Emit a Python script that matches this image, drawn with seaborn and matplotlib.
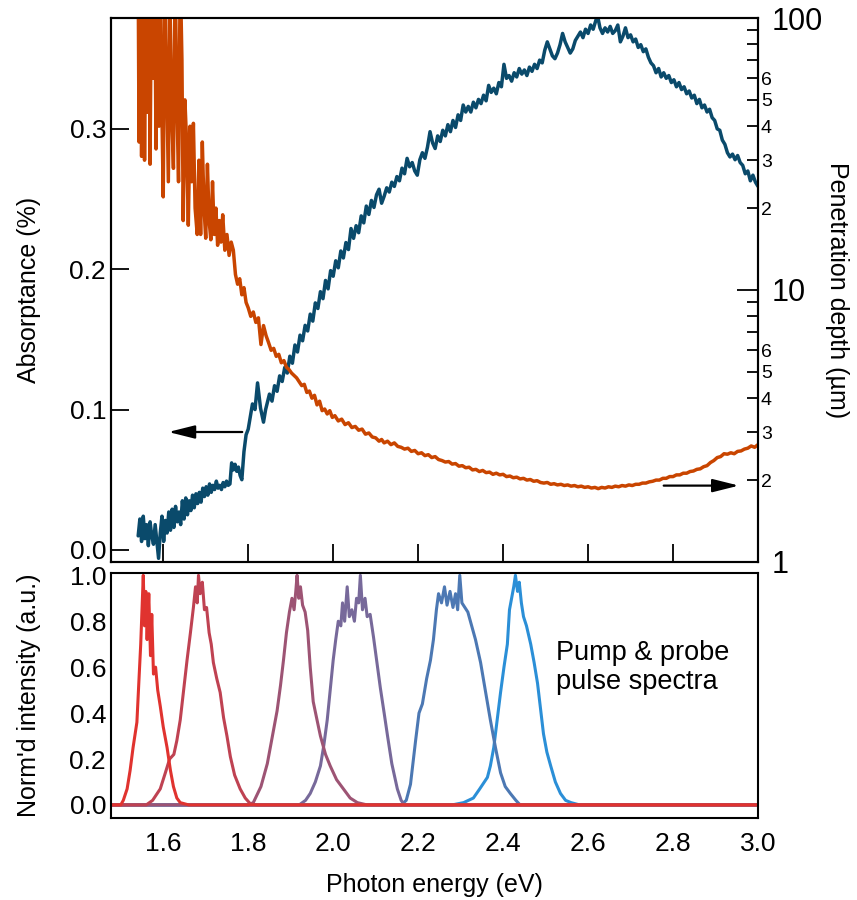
import numpy as np
import pandas as pd
import matplotlib
matplotlib.use("Agg")
import matplotlib.pyplot as plt
import seaborn as sns
from matplotlib.ticker import FixedLocator, FuncFormatter

# ---------------- data ----------------
# Absorptance (left axis, %), blue curve
abs_energy = [1.541, 1.545, 1.549, 1.553, 1.557, 1.561, 1.565, 1.569, 1.573, 1.577,
              1.581, 1.585, 1.589, 1.593, 1.597, 1.601, 1.605, 1.609, 1.613, 1.617,
              1.621, 1.625, 1.629, 1.633, 1.637, 1.641, 1.645, 1.649, 1.653, 1.657,
              1.661, 1.665, 1.669, 1.673, 1.677, 1.681, 1.685, 1.689, 1.693, 1.697,
              1.701, 1.705, 1.709, 1.713, 1.717, 1.721, 1.725, 1.729, 1.733, 1.737,
              1.741, 1.745, 1.749, 1.753, 1.757, 1.761, 1.765, 1.769, 1.773, 1.777,
              1.781, 1.785, 1.790, 1.795, 1.800, 1.805, 1.810, 1.816, 1.822, 1.829,
              1.836, 1.841, 1.845,
              1.850, 1.856, 1.862, 1.868, 1.874, 1.880, 1.886, 1.892, 1.898, 1.904,
              1.910, 1.916, 1.922, 1.928, 1.934, 1.940, 1.946, 1.952, 1.958, 1.964,
              1.970, 1.976, 1.982, 1.988, 1.994, 2.000, 2.006, 2.012, 2.018, 2.024,
              2.030, 2.036, 2.042, 2.048, 2.054, 2.060, 2.066, 2.072, 2.078, 2.084,
              2.090, 2.096, 2.102, 2.108, 2.114, 2.120, 2.126, 2.132, 2.138, 2.144,
              2.150, 2.156, 2.162, 2.168, 2.174, 2.180, 2.186, 2.192, 2.198, 2.204,
              2.210, 2.216, 2.222, 2.228, 2.234, 2.240, 2.246, 2.252, 2.258, 2.264,
              2.270, 2.276, 2.282, 2.288, 2.294, 2.300, 2.306, 2.312, 2.318, 2.324,
              2.330, 2.336, 2.342, 2.348, 2.354, 2.360, 2.366, 2.372, 2.378, 2.384,
              2.390, 2.396, 2.402, 2.408, 2.414, 2.420, 2.426, 2.432, 2.438, 2.444,
              2.450, 2.456, 2.462, 2.468, 2.474, 2.480, 2.486, 2.492, 2.498, 2.504,
              2.510, 2.516, 2.522, 2.528, 2.534, 2.540, 2.546, 2.552, 2.558, 2.564,
              2.570, 2.576, 2.582, 2.588, 2.594, 2.600, 2.606, 2.612, 2.618, 2.622,
              2.628, 2.634, 2.640, 2.646, 2.652, 2.658, 2.664, 2.670, 2.676, 2.682,
              2.688, 2.694, 2.700, 2.706, 2.712, 2.718, 2.724, 2.730, 2.736, 2.742,
              2.748, 2.754, 2.760, 2.766, 2.772, 2.778, 2.784, 2.790, 2.796, 2.802,
              2.808, 2.814, 2.820, 2.826, 2.832, 2.838, 2.844, 2.850, 2.856, 2.862,
              2.868, 2.874, 2.880, 2.886, 2.892, 2.898, 2.904, 2.910, 2.916, 2.922,
              2.928, 2.934, 2.940, 2.946, 2.952, 2.958, 2.964, 2.970, 2.976, 2.982,
              2.988, 2.994, 3.000]
absorptance = [0.010, 0.022, 0.006, 0.024, 0.008, 0.018, 0.003, 0.020, 0.010, 0.004,
               0.018, 0.006, -0.006, 0.012, 0.024, 0.006, 0.021, 0.012, 0.027, 0.014,
               0.029, 0.016, 0.031, 0.020, 0.027, 0.018, 0.035, 0.022, 0.037, 0.025,
               0.035, 0.028, 0.039, 0.030, 0.040, 0.033, 0.041, 0.034, 0.044, 0.038,
               0.045, 0.039, 0.047, 0.041, 0.046, 0.043, 0.049, 0.044, 0.046, 0.043,
               0.048, 0.045, 0.049, 0.046, 0.047, 0.062, 0.057, 0.061, 0.056, 0.059,
               0.053, 0.050, 0.070, 0.082, 0.086, 0.095, 0.104, 0.100, 0.119, 0.101,
               0.091, 0.100, 0.105,
               0.111, 0.106, 0.117, 0.113, 0.124, 0.120, 0.130, 0.126, 0.138, 0.133,
               0.146, 0.141, 0.153, 0.149, 0.160, 0.156, 0.168, 0.163, 0.176, 0.172,
               0.184, 0.179, 0.192, 0.186, 0.199, 0.195, 0.206, 0.201, 0.213, 0.208,
               0.219, 0.214, 0.229, 0.222, 0.231, 0.226, 0.238, 0.233, 0.245, 0.239,
               0.249, 0.244, 0.253, 0.257, 0.247, 0.252, 0.258, 0.255, 0.262, 0.259,
               0.266, 0.263, 0.272, 0.268, 0.279, 0.273, 0.276, 0.270, 0.267, 0.278,
               0.283, 0.279, 0.287, 0.298, 0.290, 0.286, 0.295, 0.291, 0.299, 0.295,
               0.303, 0.298, 0.306, 0.301, 0.310, 0.306, 0.317, 0.312, 0.316, 0.312,
               0.319, 0.315, 0.321, 0.318, 0.324, 0.320, 0.331, 0.326, 0.329, 0.325,
               0.333, 0.330, 0.346, 0.336, 0.338, 0.334, 0.340, 0.337, 0.343, 0.339,
               0.342, 0.338, 0.344, 0.341, 0.346, 0.343, 0.349, 0.347, 0.356, 0.362,
               0.357, 0.352, 0.350, 0.354, 0.360, 0.368, 0.362, 0.358, 0.354, 0.357,
               0.363, 0.366, 0.369, 0.365, 0.371, 0.368, 0.374, 0.371, 0.377, 0.381,
               0.372, 0.368, 0.372, 0.369, 0.373, 0.368, 0.370, 0.374, 0.362, 0.366,
               0.372, 0.365, 0.367, 0.362, 0.364, 0.358, 0.360, 0.355, 0.357, 0.351,
               0.347, 0.345, 0.340, 0.343, 0.337, 0.340, 0.336, 0.338, 0.333, 0.335,
               0.330, 0.333, 0.328, 0.330, 0.325, 0.327, 0.322, 0.324, 0.318, 0.321,
               0.315, 0.317, 0.312, 0.314, 0.308, 0.306, 0.300, 0.299, 0.292, 0.289,
               0.283, 0.280, 0.282, 0.278, 0.281, 0.276, 0.274, 0.268, 0.270, 0.263,
               0.267, 0.262, 0.259]

# Penetration depth (right axis, um), orange curve
pen_energy = [1.541, 1.543, 1.546, 1.549, 1.553, 1.556, 1.560, 1.563, 1.566, 1.569,
              1.573, 1.576, 1.580, 1.583, 1.586, 1.590, 1.593, 1.596, 1.600, 1.604,
              1.608, 1.612, 1.616, 1.620, 1.624, 1.628, 1.632, 1.636, 1.640, 1.644,
              1.647, 1.651, 1.655, 1.659, 1.663, 1.667, 1.671, 1.675, 1.680, 1.684,
              1.688, 1.692, 1.696, 1.700, 1.704, 1.708, 1.712, 1.716, 1.720, 1.724,
              1.728, 1.732, 1.736, 1.740, 1.745, 1.750, 1.755, 1.760, 1.765, 1.770,
              1.775, 1.780, 1.785, 1.790, 1.795,
              1.800, 1.806, 1.812, 1.818, 1.824, 1.830, 1.836, 1.842, 1.848, 1.854,
              1.860, 1.866, 1.872, 1.878, 1.884, 1.890, 1.896, 1.902, 1.908, 1.914,
              1.920, 1.926, 1.932, 1.938, 1.944, 1.950, 1.956, 1.962, 1.968, 1.974,
              1.980, 1.986, 1.992, 1.998, 2.004, 2.012, 2.020, 2.028, 2.036, 2.044,
              2.052, 2.060, 2.068, 2.076, 2.084, 2.092, 2.100, 2.108, 2.114, 2.120,
              2.128, 2.136, 2.144, 2.152, 2.160, 2.168, 2.176, 2.184, 2.192, 2.200,
              2.208, 2.216, 2.224, 2.232, 2.240, 2.248, 2.256, 2.264, 2.272, 2.280,
              2.288, 2.296, 2.304, 2.312, 2.320, 2.328, 2.336, 2.344, 2.352, 2.360,
              2.368, 2.376, 2.384, 2.392, 2.400, 2.408, 2.416, 2.424, 2.432, 2.440,
              2.448, 2.456, 2.464, 2.472, 2.480, 2.488, 2.496, 2.504, 2.512, 2.520,
              2.528, 2.536, 2.544, 2.552, 2.560, 2.568, 2.576, 2.584, 2.592, 2.600,
              2.608, 2.616, 2.624, 2.632, 2.640, 2.648, 2.656, 2.664, 2.672, 2.680,
              2.688, 2.696, 2.704, 2.712, 2.720, 2.728, 2.736, 2.744, 2.752, 2.760,
              2.768, 2.776, 2.784, 2.792, 2.800, 2.808, 2.816, 2.824, 2.832, 2.840,
              2.848, 2.856, 2.864, 2.872, 2.880, 2.888, 2.896, 2.904, 2.912, 2.920,
              2.928, 2.936, 2.944, 2.952, 2.960, 2.968, 2.976, 2.984, 2.992, 3.000]
pen_depth = [150, 35, 160, 31, 150, 30, 140, 45, 160, 29,
             200, 60, 150, 33, 120, 40, 150, 55, 22, 150,
             60, 25, 110, 45, 28, 150, 50, 25, 150, 70,
             18, 50, 35, 17.3, 40, 25, 41, 20, 16, 30,
             16, 35, 20, 15.5, 29, 18, 15.3, 25, 16, 20,
             14.6, 18, 15, 18.9, 14, 16, 13.4, 15, 14, 11.4,
             10.5, 11, 9.6, 10.2, 9.0,
             8.6, 8.0, 8.3, 7.6, 7.9, 6.3, 7.4, 6.8, 6.4, 6.0,
             6.1, 5.7, 5.8, 5.4, 5.5, 5.2, 5.1, 4.95, 4.85, 4.75,
             4.6, 4.45, 4.5, 4.2, 4.25, 4.0, 4.1, 3.78, 3.9, 3.6,
             3.65, 3.5, 3.6, 3.4, 3.45, 3.3, 3.35, 3.2, 3.25, 3.12,
             3.15, 3.05, 3.08, 2.95, 2.98, 2.88, 2.86, 2.78, 2.82, 2.74,
             2.78, 2.70, 2.74, 2.66, 2.64, 2.60, 2.62, 2.55, 2.57, 2.50,
             2.52, 2.46, 2.48, 2.42, 2.44, 2.38, 2.36, 2.33, 2.34, 2.29,
             2.30, 2.25, 2.26, 2.22, 2.23, 2.18, 2.19, 2.15, 2.17, 2.13,
             2.14, 2.10, 2.12, 2.09, 2.10, 2.06, 2.07, 2.04, 2.05, 2.02,
             2.03, 2.00, 2.01, 1.98, 1.99, 1.96, 1.95, 1.96, 1.93, 1.94,
             1.92, 1.93, 1.91, 1.92, 1.90, 1.91, 1.89, 1.90, 1.88, 1.89,
             1.87, 1.88, 1.86, 1.88, 1.87, 1.89, 1.88, 1.90, 1.89, 1.91,
             1.90, 1.92, 1.91, 1.93, 1.93, 1.95, 1.95, 1.97, 1.98, 2.00,
             2.00, 2.03, 2.03, 2.06, 2.06, 2.09, 2.09, 2.12, 2.12, 2.15,
             2.16, 2.19, 2.20, 2.24, 2.26, 2.32, 2.36, 2.42, 2.44, 2.50,
             2.49, 2.52, 2.50, 2.55, 2.56, 2.60, 2.62, 2.67, 2.64, 2.70]

# Pump & probe pulse spectra (bottom panel), normalised intensity
spec1_energy = [1.48, 1.50, 1.506, 1.515, 1.522, 1.529, 1.538, 1.543, 1.547, 1.550,
                1.553, 1.556, 1.559, 1.562, 1.566, 1.570, 1.573, 1.577, 1.582, 1.587,
                1.593, 1.600, 1.609, 1.617, 1.624, 1.632, 1.640, 1.66, 3.0]
spec1_int = [0, 0, 0.02, 0.07, 0.15, 0.25, 0.36, 0.55, 0.70, 0.85,
             1.0, 0.78, 0.93, 0.72, 0.92, 0.65, 0.83, 0.57, 0.60, 0.50,
             0.43, 0.34, 0.25, 0.15, 0.08, 0.03, 0.01, 0, 0]

spec2_energy = [1.48, 1.56, 1.575, 1.593, 1.605, 1.615, 1.625, 1.632, 1.640, 1.648,
                1.656, 1.664, 1.671, 1.676, 1.680, 1.683, 1.687, 1.692, 1.697, 1.702,
                1.708, 1.713, 1.718, 1.726, 1.734, 1.742, 1.750, 1.758, 1.768, 1.781,
                1.793, 1.805, 1.82, 3.0]
spec2_int = [0, 0, 0.02, 0.07, 0.14, 0.20, 0.22, 0.28, 0.37, 0.50,
             0.63, 0.75, 0.86, 0.95, 0.88, 1.0, 0.92, 0.97, 0.85, 0.86,
             0.75, 0.70, 0.62, 0.55, 0.49, 0.38, 0.30, 0.21, 0.13, 0.07,
             0.03, 0.005, 0, 0]

spec3_energy = [1.48, 1.80, 1.812, 1.830, 1.845, 1.857, 1.868, 1.876, 1.883, 1.890,
                1.897, 1.903, 1.908, 1.912, 1.915, 1.919, 1.923, 1.928, 1.934, 1.940,
                1.946, 1.953, 1.962, 1.970, 1.982, 1.993, 2.008, 2.024, 2.040, 2.057,
                2.08, 3.0]
spec3_int = [0, 0, 0.01, 0.08, 0.18, 0.30, 0.41, 0.52, 0.63, 0.75,
             0.84, 0.90, 0.85, 0.93, 1.0, 0.90, 0.95, 0.87, 0.84, 0.76,
             0.60, 0.45, 0.37, 0.30, 0.22, 0.17, 0.11, 0.07, 0.03, 0.01,
             0, 0]

spec4_energy = [1.48, 1.92, 1.935, 1.946, 1.958, 1.970, 1.978, 1.986, 1.993, 2.000,
                2.006, 2.012, 2.018, 2.022, 2.027, 2.033, 2.038, 2.044, 2.050, 2.055,
                2.060, 2.064, 2.069, 2.075, 2.080, 2.087, 2.095, 2.103, 2.111, 2.120,
                2.128, 2.138, 2.151, 2.160, 2.168, 3.0]
spec4_int = [0, 0, 0.02, 0.05, 0.10, 0.17, 0.26, 0.37, 0.50, 0.63,
             0.72, 0.80, 0.78, 0.88, 0.80, 0.95, 0.82, 0.85, 0.80, 0.90,
             0.88, 1.0, 0.85, 0.90, 0.82, 0.83, 0.73, 0.62, 0.51, 0.40,
             0.30, 0.18, 0.07, 0.02, 0.0, 0]

spec5_energy = [1.48, 2.16, 2.172, 2.182, 2.194, 2.202, 2.210, 2.220, 2.229, 2.236,
                2.243, 2.248, 2.255, 2.262, 2.268, 2.275, 2.282, 2.288, 2.293, 2.298,
                2.303, 2.310, 2.317, 2.323, 2.335, 2.347, 2.358, 2.370, 2.382, 2.394,
                2.405, 2.417, 2.430, 2.440, 3.0]
spec5_int = [0, 0, 0.02, 0.09, 0.28, 0.40, 0.44, 0.55, 0.63, 0.72,
             0.85, 0.92, 0.88, 0.95, 0.87, 0.93, 0.86, 0.92, 0.85, 1.0,
             0.88, 0.86, 0.84, 0.80, 0.72, 0.62, 0.50, 0.37, 0.25, 0.14,
             0.08, 0.05, 0.02, 0.0, 0]

spec6_energy = [1.48, 2.28, 2.307, 2.330, 2.345, 2.363, 2.370, 2.378, 2.386, 2.394,
                2.402, 2.410, 2.415, 2.420, 2.425, 2.429, 2.434, 2.438, 2.443, 2.448,
                2.455, 2.465, 2.473, 2.481, 2.488, 2.495, 2.503, 2.512, 2.523, 2.535,
                2.547, 2.560, 2.580, 3.0]
spec6_int = [0, 0, 0.01, 0.03, 0.07, 0.12, 0.17, 0.25, 0.37, 0.49,
             0.60, 0.70, 0.85, 0.90, 0.95, 1.0, 0.93, 0.97, 0.88, 0.82,
             0.78, 0.70, 0.62, 0.53, 0.42, 0.31, 0.23, 0.17, 0.10, 0.05,
             0.02, 0.01, 0, 0]

spectra = [
    (spec6_energy, spec6_int, "#2B8FD7"),
    (spec5_energy, spec5_int, "#4C78B3"),
    (spec4_energy, spec4_int, "#77699A"),
    (spec3_energy, spec3_int, "#9D5474"),
    (spec2_energy, spec2_int, "#BF4252"),
    (spec1_energy, spec1_int, "#E0332F"),
]

x_ticks = [1.6, 1.8, 2.0, 2.2, 2.4, 2.6, 2.8, 3.0]

# ---------------- style ----------------
sns.set_style("white")
plt.rcParams["font.family"] = ["Liberation Sans", "DejaVu Sans"]
plt.rcParams["axes.linewidth"] = 1.5
plt.rcParams["axes.edgecolor"] = "black"
plt.rcParams["text.color"] = "black"
plt.rcParams["axes.labelcolor"] = "black"
plt.rcParams["xtick.color"] = "black"
plt.rcParams["ytick.color"] = "black"

BLUE = "#0A4A6B"
ORANGE = "#C94500"
TICK_FS = 19
LABEL_FS = 18

fig = plt.figure(figsize=(8.57, 9.0), dpi=100)
ax = fig.add_axes([0.1295, 0.3756, 0.7550, 0.6044])
axb = fig.add_axes([0.1295, 0.0911, 0.7550, 0.2722])
ax2 = ax.twinx()

xlim = (1.477, 3.0)

# top panel: absorptance
df_abs = pd.DataFrame({"E": abs_energy, "A": absorptance})
sns.lineplot(data=df_abs, x="E", y="A", ax=ax, color=BLUE, lw=2.5,
             estimator=None, sort=False, legend=False)
ax.set_xlim(*xlim)
ax.set_ylim(-0.0086, 0.379)
ax.set_yticks([0.0, 0.1, 0.2, 0.3])
ax.set_yticklabels(["0.0", "0.1", "0.2", "0.3"])
ax.set_xticks(x_ticks)
ax.set_xticklabels([])
ax.tick_params(axis="both", direction="in", length=13, width=1.3,
               labelsize=TICK_FS, color="black", labelcolor="black")
ax.tick_params(axis="x", top=False, bottom=True)
ax.set_xlabel("")
ax.set_ylabel("Absorptance (%)", fontsize=LABEL_FS, color="black")
ax.yaxis.set_label_coords(-0.108, 0.5)

# penetration depth on log right axis
df_pen = pd.DataFrame({"E": pen_energy, "D": pen_depth})
sns.lineplot(data=df_pen, x="E", y="D", ax=ax2, color=ORANGE, lw=2.5,
             estimator=None, sort=False, legend=False)
ax2.set_yscale("log")
ax2.set_ylim(1, 100)
ax2.set_xlim(*xlim)
ax2.yaxis.set_major_locator(FixedLocator([1, 10, 100]))
ax2.yaxis.set_major_formatter(FuncFormatter(lambda v, p: f"{v:g}"))
minors = [m * d for d in (1, 10) for m in range(2, 10)]
ax2.yaxis.set_minor_locator(FixedLocator(minors))


def minor_fmt(v, p):
    m = round(v / (10 ** np.floor(np.log10(v) + 1e-9)))
    return str(int(m)) if 2 <= m <= 6 else ""


ax2.yaxis.set_minor_formatter(FuncFormatter(minor_fmt))
ax2.tick_params(axis="y", which="major", direction="in", length=15, width=1.3,
                labelsize=22, pad=10, color="black", labelcolor="black")
ax2.tick_params(axis="y", which="minor", direction="in", length=8, width=1.3,
                labelsize=14, pad=2, color="black", labelcolor="black")
ax2.set_ylabel("Penetration depth (\u00b5m)", fontsize=LABEL_FS, rotation=270,
               color="black")
ax2.yaxis.set_label_coords(1.14, 0.5)
ax2.set_xlabel("")

# arrows
arrow_style = "-|>,head_length=1.0,head_width=0.25"
ax.annotate("", xy=(1.612, 0.084), xytext=(1.786, 0.084),
            arrowprops=dict(arrowstyle=arrow_style, color="black", lw=1.6,
                            mutation_scale=16, shrinkA=0, shrinkB=0))
ax.annotate("", xy=(2.955, 0.0458), xytext=(2.778, 0.0458),
            arrowprops=dict(arrowstyle=arrow_style, color="black", lw=1.6,
                            mutation_scale=16, shrinkA=0, shrinkB=0))

for s in ax.spines.values():
    s.set_linewidth(1.5)
for s in ax2.spines.values():
    s.set_linewidth(1.5)

# bottom panel: spectra
for e, i, c in spectra:
    d = pd.DataFrame({"E": e, "I": i})
    sns.lineplot(data=d, x="E", y="I", ax=axb, color=c, lw=2.2,
                 estimator=None, sort=False, legend=False)
axb.set_xlim(*xlim)
axb.set_ylim(-0.057, 1.01)
axb.set_yticks([0.0, 0.2, 0.4, 0.6, 0.8, 1.0])
axb.set_yticklabels(["0.0", "0.2", "0.4", "0.6", "0.8", "1.0"])
axb.set_xticks(x_ticks)
axb.set_xticklabels([f"{t:.1f}" for t in x_ticks])
axb.tick_params(axis="both", direction="in", length=13, width=1.3,
                labelsize=TICK_FS, color="black", labelcolor="black")
axb.tick_params(axis="x", pad=10)
axb.set_xlabel("Photon energy (eV)", fontsize=LABEL_FS, labelpad=12, color="black")
axb.set_ylabel("Norm'd intensity (a.u.)", fontsize=LABEL_FS, color="black")
axb.yaxis.set_label_coords(-0.108, 0.5)
for s in axb.spines.values():
    s.set_linewidth(1.5)

axb.text(2.525, 0.72, "Pump & probe\npulse spectra", fontsize=19.5,
         ha="left", va="top", linespacing=1.15, color="black")

fig.savefig("out.png", dpi=100)
